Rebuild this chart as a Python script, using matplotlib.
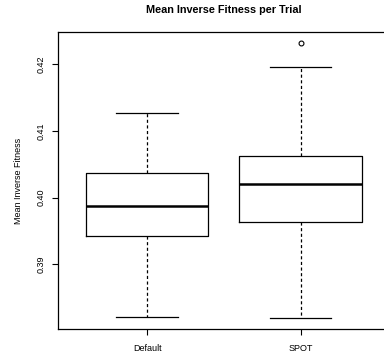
import matplotlib
matplotlib.use("Agg")
import matplotlib.pyplot as plt

plt.rcParams['font.family'] = ['Liberation Sans', 'DejaVu Sans']

labels = ["Default", "SPOT"]
whisk_lo = [0.38211, 0.38192]
q1 = [0.39421, 0.39640]
medians = [0.39871, 0.40201]
q3 = [0.40375, 0.40625]
whisk_hi = [0.41265, 0.41964]
outliers = [[], [0.42319]]

stats = []
for i in range(len(labels)):
    stats.append(dict(label=labels[i], whislo=whisk_lo[i], q1=q1[i], med=medians[i],
                      q3=q3[i], whishi=whisk_hi[i], fliers=outliers[i]))

fig = plt.figure(figsize=(3.84, 3.54), dpi=100)
ax = fig.add_axes([58 / 384, 1 - 329 / 354, 331.7 / 384, 297 / 354])

ax.bxp(stats, positions=[1, 2], widths=0.8, patch_artist=False,
       boxprops=dict(color='black', linewidth=0.9),
       medianprops=dict(color='black', linewidth=1.8),
       whiskerprops=dict(color='black', linewidth=0.9, linestyle=(0, (2.5, 2))),
       capprops=dict(color='black', linewidth=0.9),
       capwidths=0.4,
       flierprops=dict(marker='o', markerfacecolor='none', markeredgecolor='black',
                       markersize=3.5, markeredgewidth=0.8))

ax.set_xlim(0.42, 2.58)
ax.set_ylim(0.38027, 0.42484)
ax.set_yticks([0.39, 0.40, 0.41, 0.42])
ax.set_yticklabels(["0.39", "0.40", "0.41", "0.42"], rotation=90, va='center')
ax.set_xticks([1, 2])
ax.set_xticklabels(labels)
ax.tick_params(labelsize=6.5, length=4, width=0.8, pad=5)
ax.tick_params(axis='x', pad=7)
for s in ax.spines.values():
    s.set_linewidth(0.9)

ax.set_ylabel("Mean Inverse Fitness", fontsize=6.5, labelpad=10)
ax.set_title("Mean Inverse Fitness per Trial", fontsize=7.8, fontweight='bold', pad=14)

fig.savefig("out.png", dpi=100)
